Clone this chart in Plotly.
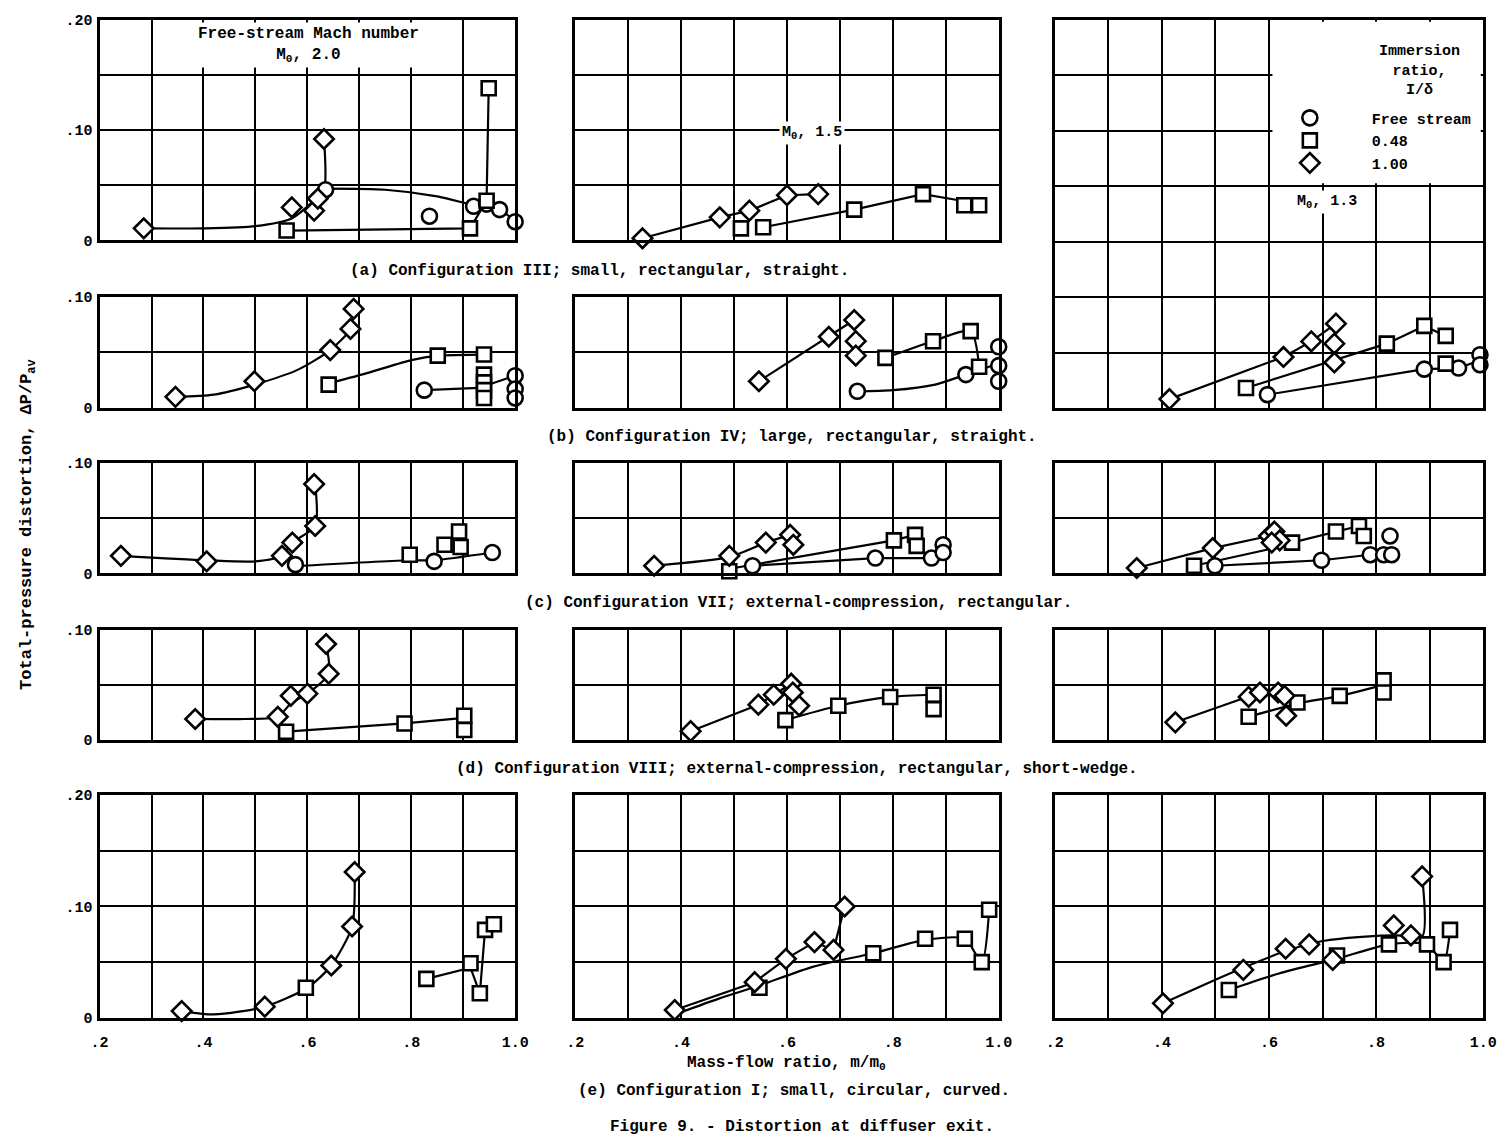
import plotly.graph_objects as go

W, H = 1510, 1148
FONT = "Liberation Mono"

# ---------------- data ----------------
# x: mass-flow ratio m/m0, y: total-pressure distortion dP/Pav
# cir = free stream, sq = immersion ratio 0.48, dia = immersion ratio 1.00
# *_fx / *_fy : points along the faired curve drawn through the data

# (a) Configuration III, M0 2.0
a20_cir_x = [0.635, 0.835, 0.92, 0.945, 0.97, 1.0]
a20_cir_y = [0.046, 0.022, 0.031, 0.033, 0.028, 0.017]
a20_cir_fx = [0.635, 0.75, 0.85, 0.92, 0.97, 1.0]
a20_cir_fy = [0.047, 0.046, 0.040, 0.032, 0.028, 0.017]
a20_sq_x = [0.56, 0.913, 0.945, 0.949]
a20_sq_y = [0.009, 0.011, 0.036, 0.138]
a20_dia_x = [0.285, 0.57, 0.613, 0.62, 0.632]
a20_dia_y = [0.011, 0.030, 0.027, 0.038, 0.092]
a20_dia_fx = [0.285, 0.40, 0.50, 0.57, 0.61, 0.632, 0.632]
a20_dia_fy = [0.011, 0.011, 0.013, 0.020, 0.035, 0.046, 0.092]

# (a) Configuration III, M0 1.5
a15_sq_x = [0.513, 0.555, 0.727, 0.857, 0.935, 0.963]
a15_sq_y = [0.011, 0.012, 0.028, 0.042, 0.032, 0.032]
a15_sq_fx = [0.555, 0.727, 0.857, 0.93]
a15_sq_fy = [0.012, 0.028, 0.042, 0.036]
a15_dia_x = [0.327, 0.473, 0.529, 0.60, 0.659]
a15_dia_y = [0.002, 0.021, 0.027, 0.041, 0.042]

# (b) Configuration IV, M0 1.3 (tall panel)
r13_cir_x = [0.597, 0.89, 0.954, 0.994, 0.994]
r13_cir_y = [0.012, 0.035, 0.036, 0.048, 0.039]
r13_cir_fx = [0.597, 0.89, 0.954, 0.994]
r13_cir_fy = [0.012, 0.035, 0.036, 0.043]
r13_sq_x = [0.557, 0.82, 0.89, 0.93, 0.93]
r13_sq_y = [0.018, 0.058, 0.074, 0.065, 0.040]
r13_sq_fx = [0.557, 0.82, 0.89, 0.93]
r13_sq_fy = [0.018, 0.058, 0.074, 0.065]
r13_dia_x = [0.414, 0.627, 0.679, 0.725, 0.722, 0.722]
r13_dia_y = [0.008, 0.046, 0.060, 0.076, 0.058, 0.041]
r13_dia_fx = [0.414, 0.627, 0.679, 0.725]
r13_dia_fy = [0.008, 0.046, 0.060, 0.076]

# (b) Configuration IV, M0 2.0
b20_cir_x = [0.825, 1.0, 1.0, 1.0]
b20_cir_y = [0.016, 0.029, 0.017, 0.009]
b20_cir_fx = [0.825, 0.93, 1.0]
b20_cir_fy = [0.016, 0.018, 0.029]
b20_sq_x = [0.641, 0.851, 0.94, 0.94, 0.94, 0.94, 0.94]
b20_sq_y = [0.021, 0.047, 0.048, 0.030, 0.023, 0.016, 0.009]
b20_sq_fx = [0.641, 0.72, 0.80, 0.851, 0.94]
b20_sq_fy = [0.022, 0.032, 0.043, 0.047, 0.048]
b20_dia_x = [0.346, 0.498, 0.644, 0.683, 0.689]
b20_dia_y = [0.010, 0.024, 0.052, 0.071, 0.089]
b20_dia_fx = [0.346, 0.42, 0.498, 0.58, 0.644, 0.683, 0.689]
b20_dia_fy = [0.010, 0.012, 0.021, 0.034, 0.052, 0.071, 0.089]

# (b) Configuration IV, M0 1.5
b15_cir_x = [0.733, 0.938, 1.0, 1.0, 1.0]
b15_cir_y = [0.015, 0.030, 0.055, 0.038, 0.024]
b15_cir_fx = [0.733, 0.80, 0.88, 0.938, 1.0]
b15_cir_fy = [0.015, 0.016, 0.021, 0.030, 0.040]
b15_sq_x = [0.786, 0.876, 0.947, 0.963]
b15_sq_y = [0.045, 0.060, 0.069, 0.037]
b15_dia_x = [0.547, 0.679, 0.727, 0.730, 0.730]
b15_dia_y = [0.024, 0.064, 0.079, 0.060, 0.047]
b15_dia_fx = [0.547, 0.679, 0.727]
b15_dia_fy = [0.024, 0.064, 0.079]

# (c) Configuration VII, M0 2.0
c20_cir_x = [0.577, 0.844, 0.956]
c20_cir_y = [0.008, 0.011, 0.019]
c20_cir_fx = [0.59, 0.797, 0.844, 0.956]
c20_cir_fy = [0.007, 0.012, 0.012, 0.019]
c20_sq_x = [0.797, 0.864, 0.892, 0.895]
c20_sq_y = [0.017, 0.026, 0.038, 0.024]
c20_dia_x = [0.241, 0.406, 0.551, 0.571, 0.615, 0.613]
c20_dia_y = [0.016, 0.011, 0.016, 0.028, 0.043, 0.081]
c20_dia_fx = [0.241, 0.406, 0.50, 0.551, 0.571, 0.615, 0.615]
c20_dia_fy = [0.016, 0.012, 0.011, 0.016, 0.028, 0.043, 0.081]

# (c) Configuration VII, M0 1.5
c15_cir_x = [0.535, 0.767, 0.873, 0.895, 0.895]
c15_cir_y = [0.007, 0.014, 0.014, 0.026, 0.019]
c15_cir_fx = [0.535, 0.767, 0.873, 0.895]
c15_cir_fy = [0.007, 0.014, 0.014, 0.019]
c15_sq_x = [0.491, 0.802, 0.842, 0.845]
c15_sq_y = [0.002, 0.030, 0.035, 0.025]
c15_sq_fx = [0.50, 0.802, 0.842]
c15_sq_fy = [0.005, 0.030, 0.035]
c15_dia_x = [0.349, 0.491, 0.560, 0.606, 0.612]
c15_dia_y = [0.007, 0.016, 0.028, 0.035, 0.026]
c15_dia_fx = [0.349, 0.491, 0.560, 0.606]
c15_dia_fy = [0.007, 0.015, 0.028, 0.035]

# (c) Configuration VII, M0 1.3
c13_cir_x = [0.499, 0.698, 0.789, 0.814, 0.829, 0.826]
c13_cir_y = [0.007, 0.012, 0.017, 0.017, 0.017, 0.034]
c13_cir_fx = [0.499, 0.698, 0.789]
c13_cir_fy = [0.007, 0.012, 0.017]
c13_sq_x = [0.46, 0.643, 0.725, 0.768, 0.777]
c13_sq_y = [0.007, 0.028, 0.038, 0.043, 0.034]
c13_sq_fx = [0.46, 0.60, 0.643, 0.725, 0.768]
c13_sq_fy = [0.007, 0.022, 0.028, 0.038, 0.043]
c13_dia_x = [0.353, 0.495, 0.600, 0.610, 0.620, 0.605]
c13_dia_y = [0.005, 0.023, 0.034, 0.038, 0.030, 0.028]
c13_dia_fx = [0.353, 0.495, 0.600]
c13_dia_fy = [0.005, 0.023, 0.034]

# (d) Configuration VIII, M0 2.0
d20_sq_x = [0.559, 0.787, 0.902, 0.902]
d20_sq_y = [0.0075, 0.015, 0.022, 0.009]
d20_sq_fx = [0.559, 0.787, 0.902]
d20_sq_fy = [0.0075, 0.015, 0.020]
d20_dia_x = [0.384, 0.543, 0.568, 0.600, 0.641, 0.636]
d20_dia_y = [0.019, 0.021, 0.040, 0.042, 0.060, 0.087]
d20_dia_fx = [0.384, 0.48, 0.543, 0.568, 0.600, 0.641, 0.636]
d20_dia_fy = [0.019, 0.019, 0.021, 0.033, 0.042, 0.060, 0.087]

# (d) Configuration VIII, M0 1.5
d15_sq_x = [0.597, 0.697, 0.795, 0.877, 0.877]
d15_sq_y = [0.018, 0.031, 0.039, 0.041, 0.028]
d15_sq_fx = [0.597, 0.697, 0.795, 0.877]
d15_sq_fy = [0.018, 0.031, 0.039, 0.041]
d15_dia_x = [0.418, 0.546, 0.575, 0.608, 0.611, 0.623]
d15_dia_y = [0.008, 0.032, 0.041, 0.051, 0.043, 0.031]
d15_dia_fx = [0.418, 0.546, 0.575, 0.608]
d15_dia_fy = [0.008, 0.032, 0.041, 0.051]

# (d) Configuration VIII, M0 1.3
d13_sq_x = [0.562, 0.653, 0.732, 0.814, 0.814]
d13_sq_y = [0.021, 0.034, 0.040, 0.054, 0.043]
d13_sq_fx = [0.562, 0.653, 0.732, 0.814]
d13_sq_fy = [0.021, 0.033, 0.040, 0.050]
d13_dia_x = [0.425, 0.562, 0.583, 0.617, 0.629, 0.632]
d13_dia_y = [0.016, 0.039, 0.043, 0.043, 0.040, 0.022]
d13_dia_fx = [0.425, 0.562, 0.583]
d13_dia_fy = [0.016, 0.039, 0.043]

# (e) Configuration I, M0 2.0
e20_sq_x = [0.597, 0.829, 0.914, 0.932, 0.942, 0.959]
e20_sq_y = [0.027, 0.035, 0.049, 0.022, 0.079, 0.084]
e20_sq_fx = [0.829, 0.914, 0.932, 0.942, 0.959]
e20_sq_fy = [0.035, 0.045, 0.022, 0.079, 0.084]
e20_dia_x = [0.358, 0.518, 0.646, 0.686, 0.691]
e20_dia_y = [0.006, 0.010, 0.047, 0.082, 0.131]
e20_dia_fx = [0.358, 0.42, 0.518, 0.60, 0.646, 0.686, 0.691]
e20_dia_fy = [0.006, 0.003, 0.010, 0.027, 0.047, 0.082, 0.131]

# (e) Configuration I, M0 1.5
e15_sq_x = [0.548, 0.763, 0.861, 0.936, 0.968, 0.982]
e15_sq_y = [0.027, 0.058, 0.071, 0.071, 0.050, 0.097]
e15_sq_fx = [0.40, 0.47, 0.548, 0.65, 0.763, 0.861, 0.936, 0.968, 0.982]
e15_sq_fy = [0.005, 0.017, 0.029, 0.046, 0.058, 0.070, 0.071, 0.050, 0.097]
e15_dia_x = [0.388, 0.539, 0.598, 0.652, 0.688, 0.709]
e15_dia_y = [0.007, 0.032, 0.053, 0.068, 0.061, 0.100]

# (e) Configuration I, M0 1.3
e13_sq_x = [0.525, 0.727, 0.824, 0.895, 0.926, 0.938]
e13_sq_y = [0.025, 0.056, 0.066, 0.066, 0.050, 0.079]
e13_sq_fx = [0.525, 0.62, 0.727, 0.824, 0.895, 0.926, 0.938]
e13_sq_fy = [0.025, 0.040, 0.053, 0.066, 0.066, 0.050, 0.079]
e13_dia_x = [0.402, 0.552, 0.631, 0.675, 0.719, 0.833, 0.865, 0.886]
e13_dia_y = [0.013, 0.043, 0.062, 0.066, 0.052, 0.083, 0.074, 0.127]
e13_dia_fx = [0.402, 0.48, 0.552, 0.631, 0.70, 0.78, 0.84, 0.886, 0.886]
e13_dia_fy = [0.013, 0.030, 0.045, 0.060, 0.069, 0.073, 0.074, 0.073, 0.127]

x_tick_vals = [0.2, 0.4, 0.6, 0.8, 1.0]
x_tick_text = [".2", ".4", ".6", ".8", "1.0"]
y_tick_text = {0.0: "0", 0.1: ".10", 0.2: ".20"}
legend_names = {"circle": "Free stream", "square": "0.48", "diamond": "1.00"}

# ---------------- layout geometry (pixels) ----------------
COLS = {"L": (92, 514), "M": (575, 1005), "R": (1062, 1497)}
ROWS = {"a": (13, 237, 0.20), "big": (13, 407, 0.35), "b": (294, 407, 0.10),
        "c": (463, 575, 0.10), "d": (632, 744, 0.10), "e": (800, 1026, 0.20)}


def S(sym, x, y, fx=None, fy=None, spline=False, line=True):
    return dict(sym=sym, x=x, y=y, fx=fx, fy=fy, spline=spline, line=line)


panels = [
    dict(col="L", row="a", yl=True, xl=False, series=[
        S("circle", a20_cir_x, a20_cir_y, a20_cir_fx, a20_cir_fy, True),
        S("square", a20_sq_x, a20_sq_y),
        S("diamond", a20_dia_x, a20_dia_y, a20_dia_fx, a20_dia_fy, True)]),
    dict(col="M", row="a", yl=False, xl=False, series=[
        S("square", a15_sq_x, a15_sq_y, a15_sq_fx, a15_sq_fy),
        S("diamond", a15_dia_x, a15_dia_y)]),
    dict(col="R", row="big", yl=False, xl=False, legend=True, series=[
        S("circle", r13_cir_x, r13_cir_y, r13_cir_fx, r13_cir_fy),
        S("square", r13_sq_x, r13_sq_y, r13_sq_fx, r13_sq_fy),
        S("diamond", r13_dia_x, r13_dia_y, r13_dia_fx, r13_dia_fy)]),
    dict(col="L", row="b", yl=True, xl=False, series=[
        S("circle", b20_cir_x, b20_cir_y, b20_cir_fx, b20_cir_fy),
        S("square", b20_sq_x, b20_sq_y, b20_sq_fx, b20_sq_fy, True),
        S("diamond", b20_dia_x, b20_dia_y, b20_dia_fx, b20_dia_fy, True)]),
    dict(col="M", row="b", yl=False, xl=False, series=[
        S("circle", b15_cir_x, b15_cir_y, b15_cir_fx, b15_cir_fy, True),
        S("square", b15_sq_x, b15_sq_y, spline=True),
        S("diamond", b15_dia_x, b15_dia_y, b15_dia_fx, b15_dia_fy)]),
    dict(col="L", row="c", yl=True, xl=False, series=[
        S("circle", c20_cir_x, c20_cir_y, c20_cir_fx, c20_cir_fy, True),
        S("square", c20_sq_x, c20_sq_y, line=False),
        S("diamond", c20_dia_x, c20_dia_y, c20_dia_fx, c20_dia_fy, True)]),
    dict(col="M", row="c", yl=False, xl=False, series=[
        S("circle", c15_cir_x, c15_cir_y, c15_cir_fx, c15_cir_fy),
        S("square", c15_sq_x, c15_sq_y, c15_sq_fx, c15_sq_fy),
        S("diamond", c15_dia_x, c15_dia_y, c15_dia_fx, c15_dia_fy, True)]),
    dict(col="R", row="c", yl=False, xl=False, series=[
        S("circle", c13_cir_x, c13_cir_y, c13_cir_fx, c13_cir_fy),
        S("square", c13_sq_x, c13_sq_y, c13_sq_fx, c13_sq_fy),
        S("diamond", c13_dia_x, c13_dia_y, c13_dia_fx, c13_dia_fy)]),
    dict(col="L", row="d", yl=True, xl=False, series=[
        S("square", d20_sq_x, d20_sq_y, d20_sq_fx, d20_sq_fy),
        S("diamond", d20_dia_x, d20_dia_y, d20_dia_fx, d20_dia_fy, True)]),
    dict(col="M", row="d", yl=False, xl=False, series=[
        S("square", d15_sq_x, d15_sq_y, d15_sq_fx, d15_sq_fy, True),
        S("diamond", d15_dia_x, d15_dia_y, d15_dia_fx, d15_dia_fy)]),
    dict(col="R", row="d", yl=False, xl=False, series=[
        S("square", d13_sq_x, d13_sq_y, d13_sq_fx, d13_sq_fy, True),
        S("diamond", d13_dia_x, d13_dia_y, d13_dia_fx, d13_dia_fy)]),
    dict(col="L", row="e", yl=True, xl=True, series=[
        S("square", e20_sq_x, e20_sq_y, e20_sq_fx, e20_sq_fy),
        S("diamond", e20_dia_x, e20_dia_y, e20_dia_fx, e20_dia_fy, True)]),
    dict(col="M", row="e", yl=False, xl=True, series=[
        S("square", e15_sq_x, e15_sq_y, e15_sq_fx, e15_sq_fy, True),
        S("diamond", e15_dia_x, e15_dia_y)]),
    dict(col="R", row="e", yl=False, xl=True, series=[
        S("square", e13_sq_x, e13_sq_y, e13_sq_fx, e13_sq_fy, True),
        S("diamond", e13_dia_x, e13_dia_y, e13_dia_fx, e13_dia_fy, True)]),
]

MSIZE = {"circle": 15, "square": 14, "diamond": 15}
TICKFONT = dict(family=FONT, size=15, color="black", weight="bold")
GRID = dict(showgrid=True, gridcolor="black", gridwidth=2)

fig = go.Figure()
layout = {}
for i, p in enumerate(panels, start=1):
    sfx = "" if i == 1 else str(i)
    x0, x1 = COLS[p["col"]]
    y0, y1, ymax = ROWS[p["row"]]
    yvals = [v for v in (0.0, 0.1, 0.2) if v <= ymax + 1e-9]
    ytext = [y_tick_text[v] for v in yvals]
    axis_common = dict(GRID, showline=True, linecolor="black", linewidth=3, mirror=True,
                       zeroline=False, ticks="", fixedrange=True, tickfont=TICKFONT,
                       tickmode="array")
    layout["xaxis" + sfx] = dict(axis_common, domain=[x0 / W, x1 / W], range=[0.2, 1.0],
                                 anchor="y" + sfx, tickvals=x_tick_vals, ticktext=x_tick_text,
                                 showticklabels=p["xl"], ticklabelstandoff=8,
                                 minor=dict(GRID, tickmode="linear", tick0=0.2, dtick=0.1))
    layout["yaxis" + sfx] = dict(axis_common, domain=[1 - y1 / H, 1 - y0 / H], range=[0, ymax],
                                 anchor="x" + sfx, tickvals=yvals, ticktext=ytext,
                                 showticklabels=p["yl"], ticklabelstandoff=1,
                                 minor=dict(GRID, tickmode="linear", tick0=0, dtick=0.05))
    xa, ya = "x" + sfx, "y" + sfx
    # faired curves first
    for s in p["series"]:
        if not s["line"]:
            continue
        fx = s["fx"] if s["fx"] is not None else s["x"]
        fy = s["fy"] if s["fy"] is not None else s["y"]
        fig.add_trace(go.Scatter(
            x=fx, y=fy, mode="lines", xaxis=xa, yaxis=ya, showlegend=False, hoverinfo="skip",
            line=dict(color="black", width=2.2, shape="spline" if s["spline"] else "linear",
                      smoothing=0.7 if s["spline"] else 0)))
    for s in p["series"]:
        fig.add_trace(go.Scatter(
            x=s["x"], y=s["y"], mode="markers", xaxis=xa, yaxis=ya,
            name=legend_names[s["sym"]], showlegend=bool(p.get("legend")),
            cliponaxis=False,
            marker=dict(symbol=s["sym"], size=MSIZE[s["sym"]], color="white",
                        line=dict(color="black", width=2.6))))


def px(x):
    return x / W


def py(y):
    return 1 - y / H


TF = dict(family=FONT, color="black", weight="bold")
ann = []


def text(t, x, y, size=16, bg=None, angle=0):
    d = dict(text=t, x=px(x), y=py(y), xref="paper", yref="paper", showarrow=False,
             xanchor="center", yanchor="middle", align="center", textangle=angle,
             font=dict(TF, size=size))
    if bg:
        d.update(bgcolor=bg, borderpad=2)
    ann.append(d)


text("Free-stream Mach number<br>M<sub>0</sub>, 2.0", 304, 39, 16, bg="white")
text("M<sub>0</sub>, 1.5", 815, 128, 15, bg="white")
text("M<sub>0</sub>, 1.3", 1338, 198, 15, bg="white")
text("Immersion<br>ratio,<br>I/δ", 1432, 65, 15)

text("(a) Configuration III; small, rectangular, straight.", 600, 268)
text("(b) Configuration IV; large, rectangular, straight.", 795, 436)
text("(c) Configuration VII; external-compression, rectangular.", 802, 605)
text("(d) Configuration VIII; external-compression, rectangular, short-wedge.", 800, 773)
text("Mass-flow ratio, m/m<sub>0</sub>", 790, 1072)
text("(e) Configuration I; small, circular, curved.", 797, 1100)
text("Figure 9. - Distortion at diffuser exit.", 805, 1137)
text("Total-pressure distortion, ΔP/P<sub>av</sub>", 20, 525, 17, angle=-90)

shapes = [dict(type="rect", xref="paper", yref="paper", x0=px(1283), x1=px(1494.5),
               y0=py(179), y1=py(15), fillcolor="white", line=dict(width=0), layer="above")]

fig.update_layout(width=W, height=H, margin=dict(l=0, r=0, t=0, b=0),
                  paper_bgcolor="white", plot_bgcolor="white", showlegend=True,
                  legend=dict(x=px(1258), y=py(96), xanchor="left", yanchor="top",
                              bgcolor="rgba(0,0,0,0)", borderwidth=0, itemwidth=114,
                              tracegroupgap=0, itemclick=False, itemdoubleclick=False,
                              font=dict(TF, size=15)),
                  annotations=ann, shapes=shapes, **layout)
fig.write_html("out.html")
